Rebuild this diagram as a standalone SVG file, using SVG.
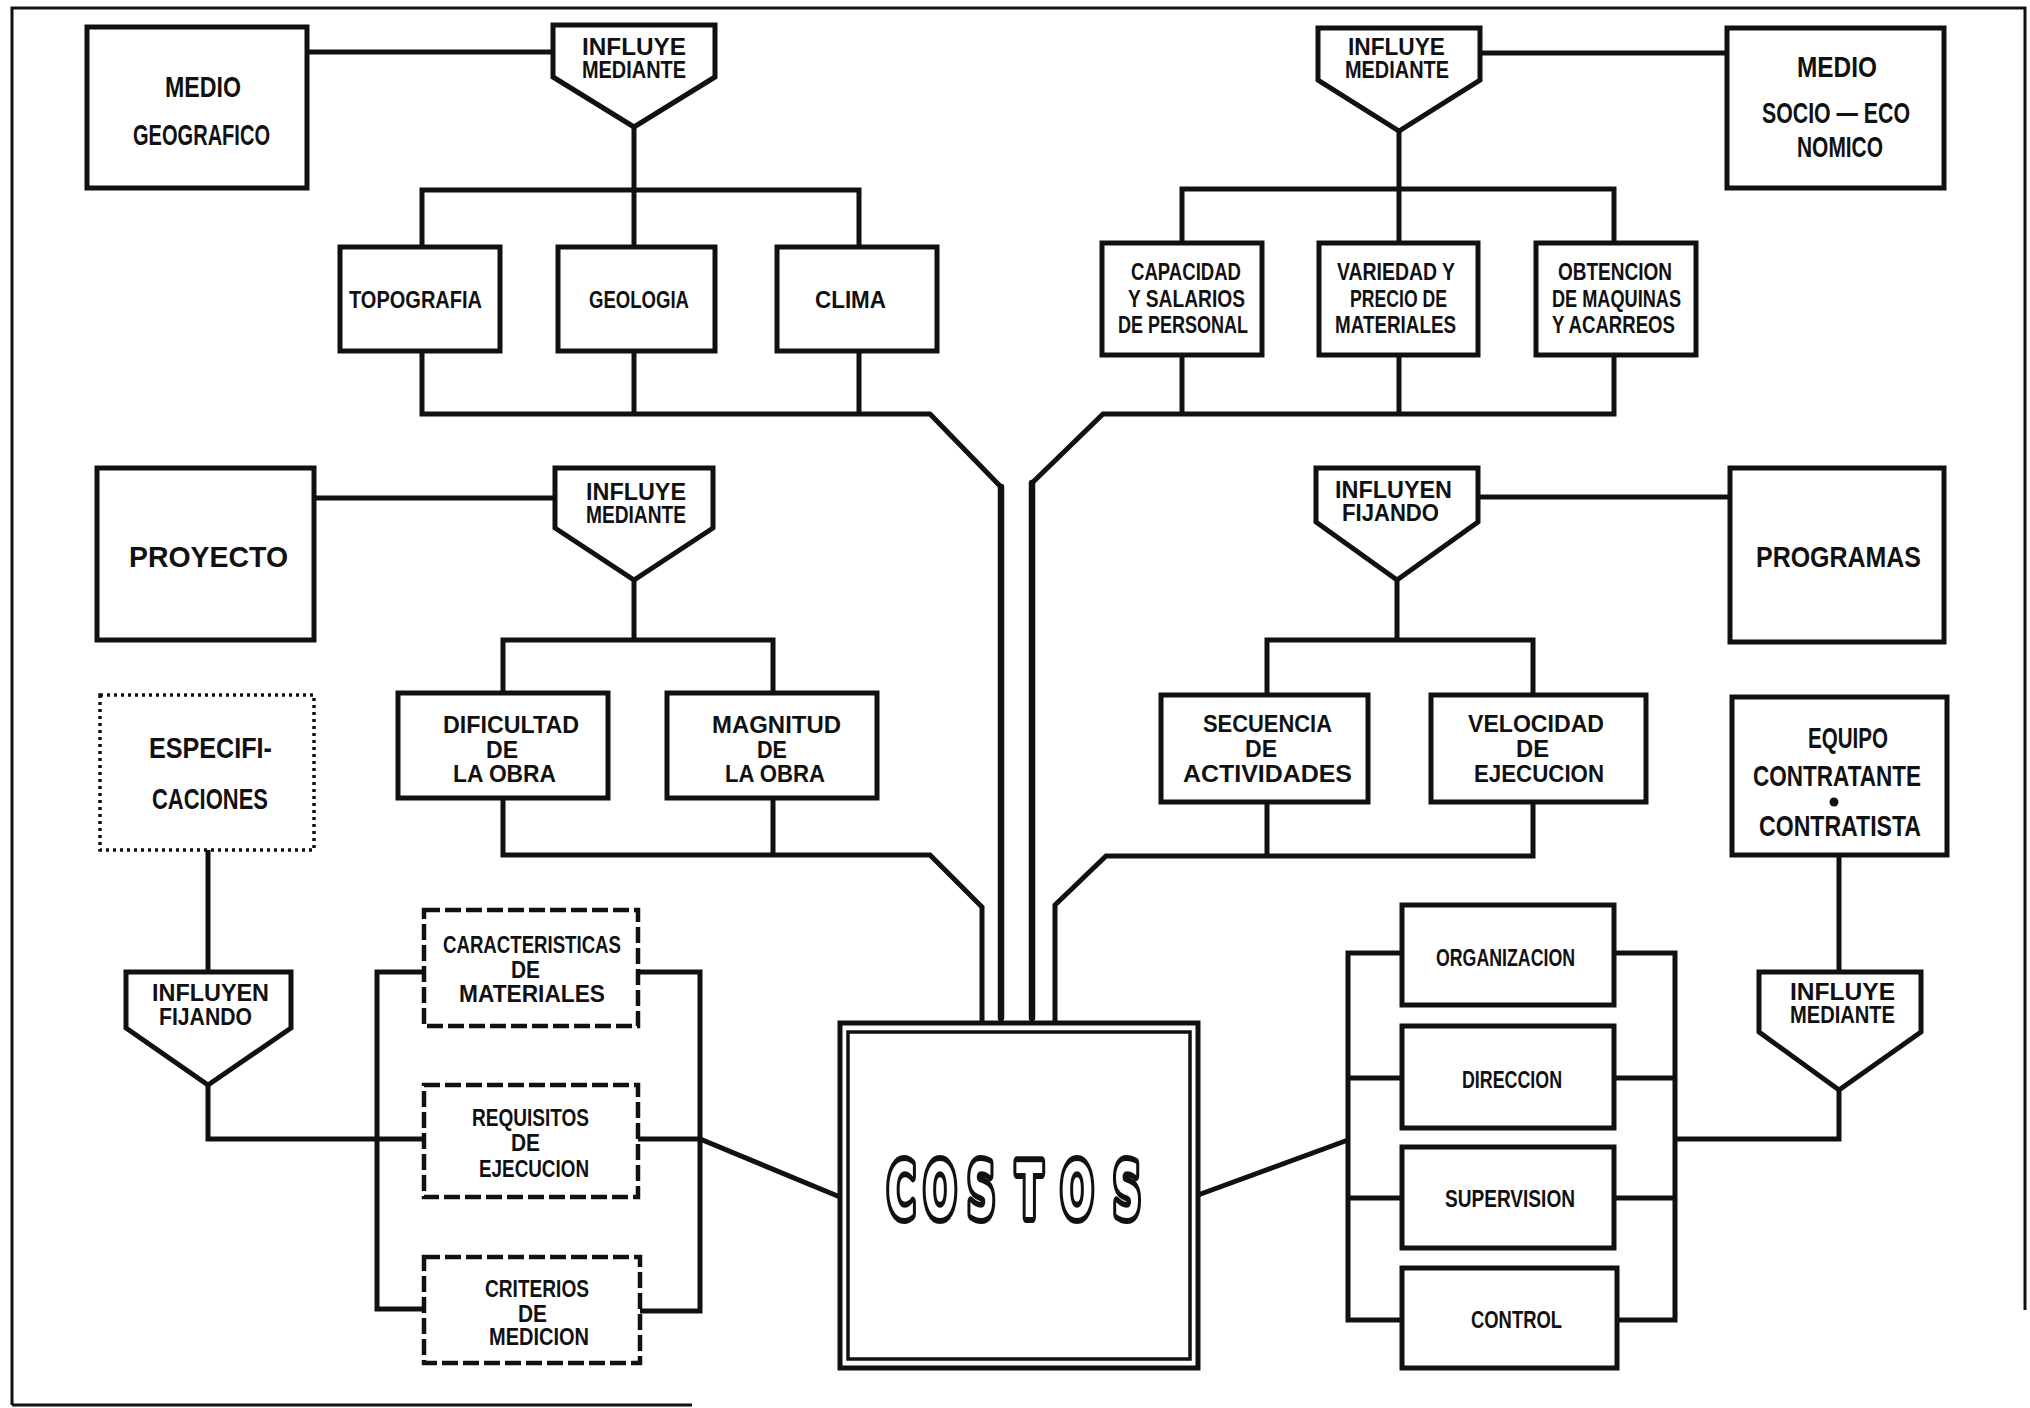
<svg xmlns="http://www.w3.org/2000/svg" width="2030" height="1408" viewBox="0 0 2030 1408">
<style>
.bg{fill:#fff}
.frame{fill:none;stroke:#111;stroke-width:3}
.box{fill:#fff;stroke:#111;stroke-width:5}
.dot{stroke-dasharray:3 4;stroke-width:3.5}
.dsh{stroke-dasharray:16 5;stroke-width:4.5}
.fun{fill:#fff;stroke:#111;stroke-width:5;stroke-linejoin:miter}
.conn path{fill:none;stroke:#111;stroke-width:5;stroke-linejoin:miter}
.conn .trunk{stroke-width:6.5;stroke-linecap:round}
.t{font-family:"Liberation Sans",Arial,sans-serif;font-weight:bold;fill:#111;font-size:24px}
.tl{font-size:30px}
.cost{font-family:"DejaVu Sans","Liberation Sans",sans-serif;font-weight:bold;font-size:75px}
</style>
<rect class="bg" x="0" y="0" width="2030" height="1408"/>
<g id="frame">
<path class="frame" d="M12 1405 V8 H2025 V1310"/>
<path class="frame" d="M12 1405 H692"/>
</g>

<g class="conn" id="connectors">
<path d="M307 52 H553"/>
<path d="M634 127 V190"/>
<path d="M422 247 V190 H859 V247"/>
<path d="M634 190 V247"/>
<path d="M422 351 V414 H930 L1001 487"/>
<path d="M634 351 V414"/>
<path d="M859 351 V414"/>
<path class="trunk" d="M1001 487 V1018"/>
<path d="M1480 53 H1727"/>
<path d="M1399 131 V189"/>
<path d="M1182 243 V189 H1614 V243"/>
<path d="M1399 189 V243"/>
<path d="M1182 355 V414"/>
<path d="M1399 355 V414"/>
<path d="M1614 355 V414 H1103 L1032 483"/>
<path class="trunk" d="M1032 483 V1018"/>
<path d="M314 498 H555"/>
<path d="M634 580 V640"/>
<path d="M503 693 V640 H773 V693"/>
<path d="M503 798 V855 H930 L982 907 V1023"/>
<path d="M773 798 V855"/>
<path d="M1478 497 H1730"/>
<path d="M1397 580 V640"/>
<path d="M1267 695 V640 H1533 V695"/>
<path d="M1267 802 V856"/>
<path d="M1533 802 V856 H1106 L1055 905 V1023"/>
<path d="M1839 855 V972"/>
<path d="M1839 1090 V1139 H1675"/>
<path d="M208 850 V972"/>
<path d="M208 1085 V1139 H424"/>
<path d="M424 972 H377 V1309 H424"/>
<path d="M638 972 H700 V1311 H638"/>
<path d="M638 1139 H700 L840 1197"/>
<path d="M1402 953 H1348 V1320 H1402"/>
<path d="M1348 1078 H1402"/>
<path d="M1348 1198 H1402"/>
<path d="M1614 953 H1675 V1320 H1617"/>
<path d="M1614 1078 H1675"/>
<path d="M1614 1198 H1675"/>
<path d="M1198 1195 L1348 1140"/>
</g>

<g id="medio-geografico">
<rect class="box" x="87" y="27" width="220" height="161"/>
<text class="t tl" x="165" y="97" textLength="76" lengthAdjust="spacingAndGlyphs">MEDIO</text>
<text class="t tl" x="133" y="145" textLength="137" lengthAdjust="spacingAndGlyphs">GEOGRAFICO</text>
</g>
<g id="influye-1">
<path class="fun" d="M553 25 H715 V77 L634 127 L553 77 Z"/>
<text class="t" x="582" y="55" textLength="104" lengthAdjust="spacingAndGlyphs">INFLUYE</text>
<text class="t" x="582" y="78" textLength="104" lengthAdjust="spacingAndGlyphs">MEDIANTE</text>
</g>
<g id="topografia">
<rect class="box" x="340" y="247" width="160" height="104"/>
<text class="t" x="349" y="308" textLength="133" lengthAdjust="spacingAndGlyphs">TOPOGRAFIA</text>
</g>
<g id="geologia">
<rect class="box" x="558" y="247" width="157" height="104"/>
<text class="t" x="589" y="308" textLength="100" lengthAdjust="spacingAndGlyphs">GEOLOGIA</text>
</g>
<g id="clima">
<rect class="box" x="777" y="247" width="160" height="104"/>
<text class="t" x="815" y="308" textLength="71" lengthAdjust="spacingAndGlyphs">CLIMA</text>
</g>

<g id="influye-2">
<path class="fun" d="M1318 28 H1480 V80 L1399 131 L1318 80 Z"/>
<text class="t" x="1348" y="55" textLength="97" lengthAdjust="spacingAndGlyphs">INFLUYE</text>
<text class="t" x="1345" y="78" textLength="104" lengthAdjust="spacingAndGlyphs">MEDIANTE</text>
</g>
<g id="medio-socio">
<rect class="box" x="1727" y="28" width="217" height="160"/>
<text class="t tl" x="1797" y="77" textLength="80" lengthAdjust="spacingAndGlyphs">MEDIO</text>
<text class="t tl" x="1762" y="123" textLength="148" lengthAdjust="spacingAndGlyphs">SOCIO — ECO</text>
<text class="t tl" x="1797" y="157" textLength="86" lengthAdjust="spacingAndGlyphs">NOMICO</text>
</g>
<g id="capacidad">
<rect class="box" x="1102" y="243" width="160" height="112"/>
<text class="t" x="1131" y="280" textLength="110" lengthAdjust="spacingAndGlyphs">CAPACIDAD</text>
<text class="t" x="1128" y="307" textLength="117" lengthAdjust="spacingAndGlyphs">Y SALARIOS</text>
<text class="t" x="1118" y="333" textLength="130" lengthAdjust="spacingAndGlyphs">DE PERSONAL</text>
</g>
<g id="variedad">
<rect class="box" x="1319" y="243" width="159" height="112"/>
<text class="t" x="1337" y="280" textLength="118" lengthAdjust="spacingAndGlyphs">VARIEDAD Y</text>
<text class="t" x="1350" y="307" textLength="97" lengthAdjust="spacingAndGlyphs">PRECIO DE</text>
<text class="t" x="1335" y="333" textLength="121" lengthAdjust="spacingAndGlyphs">MATERIALES</text>
</g>
<g id="obtencion">
<rect class="box" x="1536" y="243" width="160" height="112"/>
<text class="t" x="1558" y="280" textLength="114" lengthAdjust="spacingAndGlyphs">OBTENCION</text>
<text class="t" x="1552" y="307" textLength="129" lengthAdjust="spacingAndGlyphs">DE MAQUINAS</text>
<text class="t" x="1552" y="333" textLength="123" lengthAdjust="spacingAndGlyphs">Y ACARREOS</text>
</g>

<g id="proyecto">
<rect class="box" x="97" y="468" width="217" height="172"/>
<text class="t tl" x="129" y="567" textLength="159" lengthAdjust="spacingAndGlyphs">PROYECTO</text>
</g>
<g id="influye-3">
<path class="fun" d="M555 468 H713 V528 L634 580 L555 528 Z"/>
<text class="t" x="586" y="500" textLength="100" lengthAdjust="spacingAndGlyphs">INFLUYE</text>
<text class="t" x="586" y="523" textLength="100" lengthAdjust="spacingAndGlyphs">MEDIANTE</text>
</g>
<g id="dificultad">
<rect class="box" x="398" y="693" width="210" height="105"/>
<text class="t" x="443" y="733" textLength="136" lengthAdjust="spacingAndGlyphs">DIFICULTAD</text>
<text class="t" x="486" y="758" textLength="32" lengthAdjust="spacingAndGlyphs">DE</text>
<text class="t" x="453" y="782" textLength="103" lengthAdjust="spacingAndGlyphs">LA OBRA</text>
</g>
<g id="magnitud">
<rect class="box" x="667" y="693" width="210" height="105"/>
<text class="t" x="712" y="733" textLength="129" lengthAdjust="spacingAndGlyphs">MAGNITUD</text>
<text class="t" x="757" y="758" textLength="30" lengthAdjust="spacingAndGlyphs">DE</text>
<text class="t" x="725" y="782" textLength="100" lengthAdjust="spacingAndGlyphs">LA OBRA</text>
</g>

<g id="influyen-1">
<path class="fun" d="M1316 468 H1478 V522 L1397 580 L1316 522 Z"/>
<text class="t" x="1335" y="498" textLength="117" lengthAdjust="spacingAndGlyphs">INFLUYEN</text>
<text class="t" x="1342" y="521" textLength="97" lengthAdjust="spacingAndGlyphs">FIJANDO</text>
</g>
<g id="programas">
<rect class="box" x="1730" y="468" width="214" height="174"/>
<text class="t tl" x="1756" y="567" textLength="165" lengthAdjust="spacingAndGlyphs">PROGRAMAS</text>
</g>
<g id="secuencia">
<rect class="box" x="1161" y="695" width="207" height="107"/>
<text class="t" x="1203" y="732" textLength="129" lengthAdjust="spacingAndGlyphs">SECUENCIA</text>
<text class="t" x="1245" y="757" textLength="32" lengthAdjust="spacingAndGlyphs">DE</text>
<text class="t" x="1183" y="782" textLength="169" lengthAdjust="spacingAndGlyphs">ACTIVIDADES</text>
</g>
<g id="velocidad">
<rect class="box" x="1431" y="695" width="215" height="107"/>
<text class="t" x="1468" y="732" textLength="136" lengthAdjust="spacingAndGlyphs">VELOCIDAD</text>
<text class="t" x="1516" y="757" textLength="33" lengthAdjust="spacingAndGlyphs">DE</text>
<text class="t" x="1474" y="782" textLength="130" lengthAdjust="spacingAndGlyphs">EJECUCION</text>
</g>
<g id="equipo">
<rect class="box" x="1732" y="697" width="215" height="158"/>
<text class="t tl" x="1808" y="748" textLength="80" lengthAdjust="spacingAndGlyphs">EQUIPO</text>
<text class="t tl" x="1753" y="786" textLength="168" lengthAdjust="spacingAndGlyphs">CONTRATANTE</text>
<circle cx="1834" cy="802" r="4.5" fill="#111"/>
<text class="t tl" x="1759" y="836" textLength="162" lengthAdjust="spacingAndGlyphs">CONTRATISTA</text>
</g>

<g id="especificaciones">
<rect class="box dot" x="100" y="695" width="214" height="155"/>
<text class="t tl" x="149" y="758" textLength="123" lengthAdjust="spacingAndGlyphs">ESPECIFI-</text>
<text class="t tl" x="152" y="809" textLength="116" lengthAdjust="spacingAndGlyphs">CACIONES</text>
</g>
<g id="influyen-2">
<path class="fun" d="M126 972 H291 V1028 L208 1085 L126 1028 Z"/>
<text class="t" x="152" y="1001" textLength="117" lengthAdjust="spacingAndGlyphs">INFLUYEN</text>
<text class="t" x="159" y="1025" textLength="93" lengthAdjust="spacingAndGlyphs">FIJANDO</text>
</g>
<g id="caracteristicas">
<rect class="box dsh" x="424" y="910" width="214" height="116"/>
<text class="t" x="443" y="953" textLength="178" lengthAdjust="spacingAndGlyphs">CARACTERISTICAS</text>
<text class="t" x="511" y="978" textLength="29" lengthAdjust="spacingAndGlyphs">DE</text>
<text class="t" x="459" y="1002" textLength="146" lengthAdjust="spacingAndGlyphs">MATERIALES</text>
</g>
<g id="requisitos">
<rect class="box dsh" x="424" y="1085" width="214" height="112"/>
<text class="t" x="472" y="1126" textLength="117" lengthAdjust="spacingAndGlyphs">REQUISITOS</text>
<text class="t" x="511" y="1151" textLength="29" lengthAdjust="spacingAndGlyphs">DE</text>
<text class="t" x="479" y="1177" textLength="110" lengthAdjust="spacingAndGlyphs">EJECUCION</text>
</g>
<g id="criterios">
<rect class="box dsh" x="424" y="1257" width="216" height="106"/>
<text class="t" x="485" y="1297" textLength="104" lengthAdjust="spacingAndGlyphs">CRITERIOS</text>
<text class="t" x="518" y="1322" textLength="29" lengthAdjust="spacingAndGlyphs">DE</text>
<text class="t" x="489" y="1345" textLength="100" lengthAdjust="spacingAndGlyphs">MEDICION</text>
</g>

<g id="costos">
<rect class="box" x="840" y="1023" width="358" height="345"/>
<rect fill="none" stroke="#111" stroke-width="3.5" x="848" y="1032" width="342" height="327"/>
<g transform="translate(0 1217) scale(0.51 1)">
<text class="cost" x="1767 1843 1924 2018 2112 2210" y="0" text-anchor="middle" fill="#111" stroke="#111" stroke-width="12" stroke-linejoin="round">COSTOS</text>
<text class="cost" x="1767 1843 1924 2018 2112 2210" y="0" text-anchor="middle" fill="#fff">COSTOS</text>
</g>
</g>

<g id="organizacion">
<rect class="box" x="1402" y="905" width="212" height="100"/>
<text class="t" x="1436" y="966" textLength="139" lengthAdjust="spacingAndGlyphs">ORGANIZACION</text>
</g>
<g id="direccion">
<rect class="box" x="1402" y="1026" width="212" height="102"/>
<text class="t" x="1462" y="1088" textLength="100" lengthAdjust="spacingAndGlyphs">DIRECCION</text>
</g>
<g id="supervision">
<rect class="box" x="1402" y="1147" width="212" height="101"/>
<text class="t" x="1445" y="1207" textLength="130" lengthAdjust="spacingAndGlyphs">SUPERVISION</text>
</g>
<g id="control">
<rect class="box" x="1402" y="1268" width="215" height="100"/>
<text class="t" x="1471" y="1328" textLength="91" lengthAdjust="spacingAndGlyphs">CONTROL</text>
</g>
<g id="influye-4">
<path class="fun" d="M1759 972 H1921 V1032 L1839 1090 L1759 1032 Z"/>
<text class="t" x="1790" y="1000" textLength="105" lengthAdjust="spacingAndGlyphs">INFLUYE</text>
<text class="t" x="1790" y="1023" textLength="105" lengthAdjust="spacingAndGlyphs">MEDIANTE</text>
</g>
</svg>
